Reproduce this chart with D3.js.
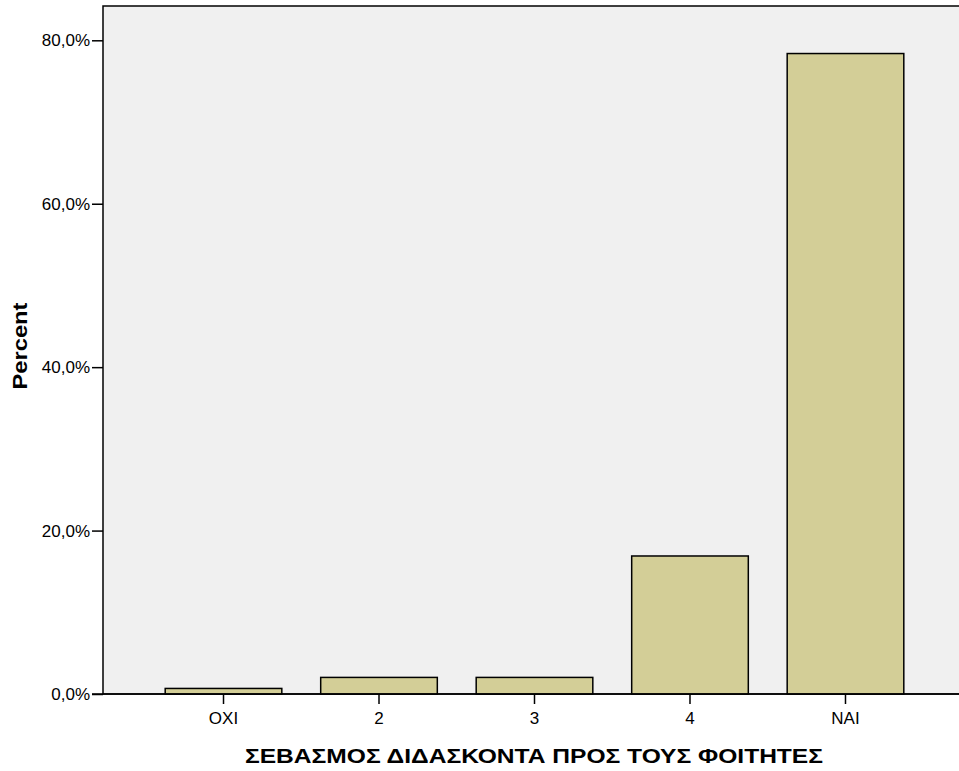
<!DOCTYPE html>
<html><head><meta charset="utf-8">
<script src="https://cdn.jsdelivr.net/npm/d3@7"></script>
<style>body{margin:0;background:#fff}svg{display:block}text{font-family:"Liberation Sans",Arial,sans-serif}</style>
</head><body>
<svg id="c" width="959" height="771"></svg>
<script>
const categories = ["ΟΧΙ", "2", "3", "4", "ΝΑΙ"];
const percents = [0.68, 2.03, 2.03, 16.89, 78.38];
const yTicks = [0, 20, 40, 60, 80];
const xTitle = "ΣΕΒΑΣΜΟΣ ΔΙΔΑΣΚΟΝΤΑ ΠΡΟΣ ΤΟΥΣ ΦΟΙΤΗΤΕΣ";
const yTitle = "Percent";

(function () {
const svg = d3.select("#c");
const pLeft = 103, pTop = 6, pRight = 966, pBottom = 694;
const x = d3.scaleBand().domain(categories).range([pLeft, pRight]).paddingInner(0.25).paddingOuter(0.4);
const y = d3.scaleLinear().domain([0, 80]).range([pBottom, 40.3]);

svg.append("rect").attr("x", pLeft).attr("y", pTop).attr("width", 959 - pLeft + 5).attr("height", pBottom - pTop)
  .attr("fill", "#f0f0f0").attr("stroke", "#000").attr("stroke-width", 1.5);

svg.selectAll(".bar").data(percents).enter().append("rect")
  .attr("class", "bar")
  .attr("x", (d, i) => x(categories[i]))
  .attr("y", d => y(d))
  .attr("width", x.bandwidth())
  .attr("height", d => y(0) - y(d))
  .attr("fill", "#d3ce97").attr("stroke", "#000").attr("stroke-width", 1.5);

const fmt = v => d3.format(".1f")(v).replace(".", ",") + "%";
const ya = svg.append("g").attr("transform", `translate(${pLeft},0)`)
  .call(d3.axisLeft(y).tickValues(yTicks).tickFormat(fmt).tickSize(11).tickPadding(2));
ya.select(".domain").remove();
ya.selectAll("line").attr("stroke", "#000").attr("stroke-width", 1.5);
ya.selectAll("text").attr("font-size", 17).attr("fill", "#000").attr("font-family", "Liberation Sans, Arial, sans-serif");

const xa = svg.append("g").attr("transform", `translate(0,${pBottom})`)
  .call(d3.axisBottom(x).tickSize(10).tickPadding(8));
xa.select(".domain").remove();
xa.selectAll("line").attr("stroke", "#000").attr("stroke-width", 1.5);
xa.selectAll("text").attr("font-size", 17).attr("fill", "#000").attr("font-family", "Liberation Sans, Arial, sans-serif");

svg.append("line").attr("x1", pLeft - 11).attr("x2", 959).attr("y1", pBottom).attr("y2", pBottom)
  .attr("stroke", "#000").attr("stroke-width", 1.5);

svg.append("text").attr("x", 534).attr("y", 763).attr("text-anchor", "middle")
  .attr("font-size", 21).attr("font-weight", "bold")
  .attr("textLength", 578).attr("lengthAdjust", "spacingAndGlyphs").text(xTitle);
svg.append("text").attr("transform", "translate(27,346) rotate(-90)").attr("text-anchor", "middle")
  .attr("font-size", 21).attr("font-weight", "bold")
  .attr("textLength", 87).attr("lengthAdjust", "spacingAndGlyphs").text(yTitle);
})();
</script>
</body></html>
